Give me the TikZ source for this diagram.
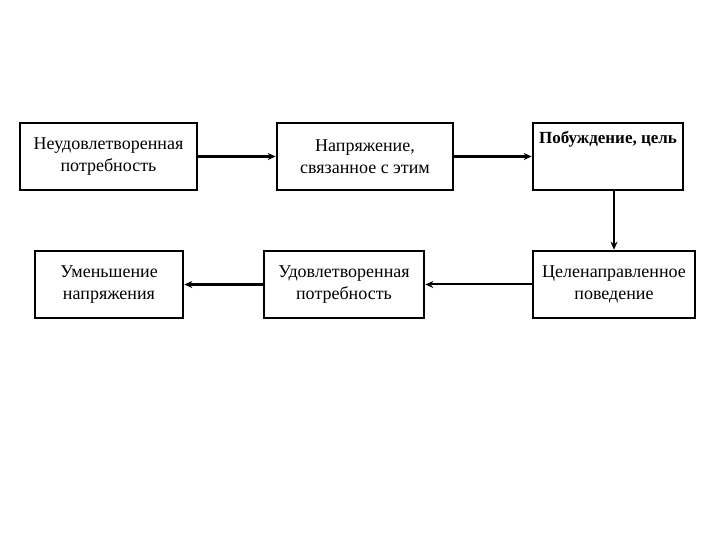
\documentclass[tikz,border=0pt]{standalone}
\usepackage{fontspec}
\setmainfont{Liberation Serif}
\usetikzlibrary{arrows.meta,positioning}
\tikzset{
    chain diagram/.style = {>={Stealth[length=8pt,width=7pt]}},
    stage/.style         = {draw, line width=2.6pt, fill=white, align=center,
                            inner sep=2pt, minimum height=67pt,
                            font=\fontsize{18}{22}\selectfont},
    flow/.style          = {->, line width=2.8pt},
    thin flow/.style     = {->, line width=1.2pt}
}

\begin{document}
\begin{tikzpicture}[chain diagram, x=1pt, y=1pt]
\useasboundingbox[fill=white] (0,0) rectangle (720,540);

% Upper row: need, tension, motive.
\node[stage, minimum width=177pt] (need) at (108.5,383.5)
    {Неудовлетворенная\\потребность};
\node[stage, minimum width=176pt] (tension) at (365,383.5)
    {Напряжение,\\связанное с этим};
\node[stage, minimum width=150pt, text depth=38pt,
    font=\fontsize{17}{22}\selectfont\bfseries] (motive) at (608,383.5)
    {Побуждение, цель};

% Lower row, read from right to left.
\node[stage, minimum width=162pt] (behaviour) at (614,255.5)
    {Целенаправленное\\поведение};
\node[stage, minimum width=160pt] (satisfied) at (344,255.5)
    {Удовлетворенная\\потребность};
\node[stage, minimum width=148pt] (relief) at (109,255.5)
    {Уменьшение\\напряжения};

\draw[flow] (need) -- (tension);
\draw[flow, line width=2.2pt] (tension) -- (motive);
\draw[thin flow] (motive.south -| behaviour.north) -- (behaviour.north);
\draw[flow, line width=2pt] (behaviour) -- (satisfied);
\draw[flow] (satisfied) -- (relief);

\end{tikzpicture}
\end{document}
